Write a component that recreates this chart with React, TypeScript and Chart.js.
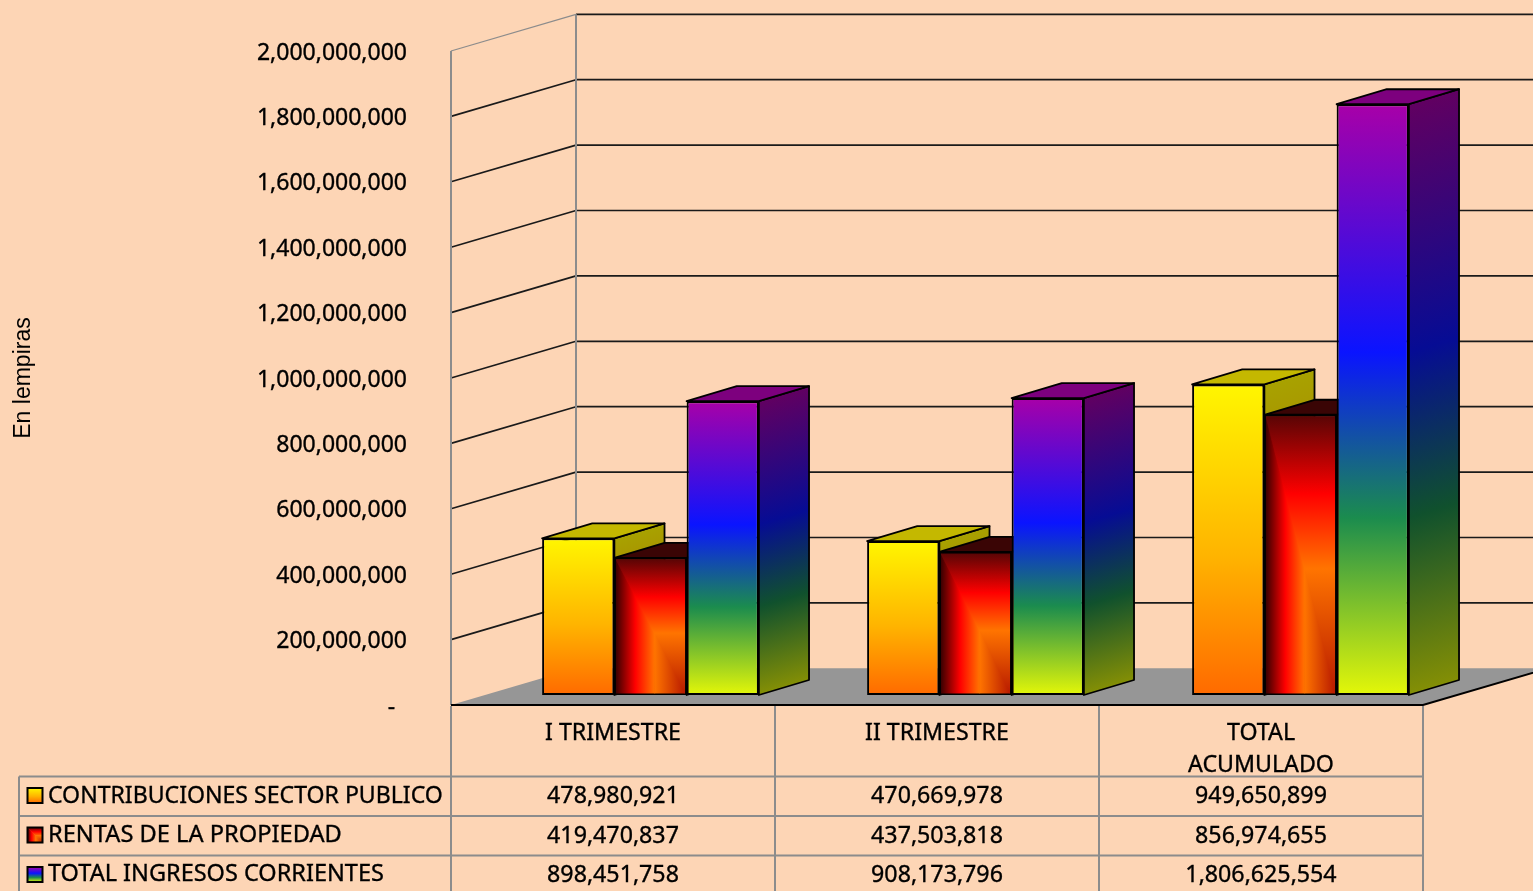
import React, { useEffect, useRef } from "react";
import { Chart, registerables } from "chart.js";

Chart.register(...registerables);

// Quarterly current income, in lempiras
const categories = ["I TRIMESTRE", "II TRIMESTRE", ["TOTAL", "ACUMULADO"]];
const seriesNames = ["CONTRIBUCIONES SECTOR PUBLICO", "RENTAS DE LA PROPIEDAD", "TOTAL INGRESOS CORRIENTES"];
const contribuciones = [478980921, 470669978, 949650899];
const rentas = [419470837, 437503818, 856974655];
const totalIngresos = [898451758, 908173796, 1806625554];
const seriesValues = [contribuciones, rentas, totalIngresos];

// Gradient ramps, top to bottom of each column face
const yellowRamp: [number, string][] = [[0, "#FFF600"], [0.55, "#FFB400"], [1, "#FF6A00"]];
const redRamp: [number, string][] = [[0, "#5A0505"], [0.28, "#FF0000"], [0.55, "#FF7000"], [1, "#B81A00"]];
const rainbowRamp: [number, string][] = [[0, "#A800A8"], [0.42, "#0A14FF"], [0.7, "#1B8C4E"], [1, "#E4F708"]];
const ramps = [yellowRamp, redRamp, rainbowRamp];
const topFaces = ["#C4B800", "#3A0505", "#7D007E"];
const sideShade = [0.66, 0.58, 0.58];

const PAGE = "#FDD5B5";
const WALL = "#8C8C8C";
const FLOOR = "#969696";
const LINE = "#1A1A1A";
const FONT = '"Noto Sans", sans-serif';
const TEXT_WEIGHT = 0.35;

// Depth of the room and of the columns
const WALL_DX = 125;
const WALL_DY = 36.7;
const COL_DX = 50;
const COL_DY = 15;
const ROW_DX = 35.6;
const ROW_DY = 10;
const ROW_STRETCH = 325 / 324;

const tableLeft = 19;
const tableRows = [776.5, 816, 855.5];
const tableEnd = 891;
const nameWidths = [395, 294, 336];
const nameNudge = [1, 0, 0];

function shade(hex: string, k: number) {
  const n = parseInt(hex.slice(1), 16);
  const p = (v: number) => Math.round(v * k);
  return `rgb(${p((n >> 16) & 255)},${p((n >> 8) & 255)},${p(n & 255)})`;
}

function fillStops(g: CanvasGradient, ramp: [number, string][], k = 1) {
  ramp.forEach(([t, c]) => g.addColorStop(t, k === 1 ? c : shade(c, k)));
  return g;
}

function poly(ctx: CanvasRenderingContext2D, pts: number[][]) {
  ctx.beginPath();
  pts.forEach(([x, y], i) => (i ? ctx.lineTo(x, y) : ctx.moveTo(x, y)));
  ctx.closePath();
}

// Property-income face: a rectangular burst around an off-centre focus
function paintBurst(ctx: CanvasRenderingContext2D, x: number, y: number, w: number, h: number) {
  const P = (u: number, v: number) => [x + u * w, y + v * h];
  const fx = 0.56;
  const fy = 0.55;
  const ORANGE = "#FF7400";
  const EDGE = "#B81A00";
  ctx.save();
  ctx.beginPath();
  ctx.rect(x, y, w, h);
  ctx.clip();

  const down = ctx.createLinearGradient(0, y, 0, y + h);
  down.addColorStop(0, "#5A0505");
  down.addColorStop(0.28, "#FF0000");
  down.addColorStop(fy, ORANGE);
  down.addColorStop(1, EDGE);

  const across = ctx.createLinearGradient(x, 0, x + w, 0);
  across.addColorStop(0, "#3A0000");
  across.addColorStop(0.28, "#FF0000");
  across.addColorStop(fx, ORANGE);
  across.addColorStop(1, EDGE);

  // Regions share edges, so each is stroked in its own fill to close the seams
  const region = (pts: number[][], paint: CanvasGradient) => {
    poly(ctx, pts);
    ctx.fillStyle = paint;
    ctx.strokeStyle = paint;
    ctx.lineWidth = 0.6;
    ctx.fill();
    ctx.stroke();
  };
  region([P(0, 0), P(fx, fy), P(fx, 1), P(0, 1)], across);
  region([P(fx, fy), P(1, 1), P(fx, 1)], across);
  region([P(0, 0), P(1, 0), P(1, fy), P(fx, fy)], down);
  region([P(fx, fy), P(1, fy), P(1, 1)], down);
  ctx.restore();
}

const roomPlugin = {
  id: "room",
  beforeDraw(chart: any) {
    const { ctx, chartArea: a, scales } = chart;
    const y = scales.y;
    const base = y.getPixelForValue(0);
    const rightEdge = chart.width;
    ctx.save();
    ctx.fillStyle = PAGE;
    ctx.fillRect(0, 0, chart.width, chart.height);

    // Floor
    poly(ctx, [
      [a.left, base],
      [a.left + WALL_DX, base - WALL_DY],
      [a.right + WALL_DX, base - WALL_DY],
      [a.right, base],
    ]);
    ctx.fillStyle = FLOOR;
    ctx.fill();

    // Wall lines at every tick
    y.ticks.forEach((t: any) => {
      const py = y.getPixelForValue(t.value);
      if (t.value === 0) return;
      ctx.strokeStyle = t.value === y.max ? WALL : LINE;
      ctx.lineWidth = t.value === y.max ? 1.2 : 1.7;
      ctx.beginPath();
      ctx.moveTo(a.left, py);
      ctx.lineTo(a.left + WALL_DX, py - WALL_DY);
      ctx.stroke();
      ctx.strokeStyle = LINE;
      ctx.lineWidth = 1.7;
      ctx.beginPath();
      ctx.moveTo(a.left + WALL_DX, py - WALL_DY);
      ctx.lineTo(rightEdge, py - WALL_DY);
      ctx.stroke();
    });

    // Wall corners
    ctx.strokeStyle = WALL;
    ctx.lineWidth = 2;
    ctx.beginPath();
    ctx.moveTo(a.left, y.getPixelForValue(y.max));
    ctx.lineTo(a.left, base);
    ctx.moveTo(a.left + WALL_DX, y.getPixelForValue(y.max) - WALL_DY);
    ctx.lineTo(a.left + WALL_DX, base - WALL_DY);
    ctx.stroke();

    // Floor front edges
    ctx.strokeStyle = "#000";
    ctx.lineWidth = 2;
    ctx.beginPath();
    ctx.moveTo(a.left, base);
    ctx.lineTo(a.right, base);
    ctx.lineTo(a.right + WALL_DX, base - WALL_DY);
    ctx.stroke();
    ctx.restore();
  },
  beforeDatasetsDraw(chart: any) {
    const { ctx } = chart;
    ctx.save();
    // The row of columns stands a little behind the front of the floor
    ctx.transform(ROW_STRETCH, 0, 0, 1, ROW_DX, -ROW_DY);
    // Left to right, each column's depth faces before its front
    chart.data.datasets.forEach((_: any, i: number) => {
      const meta = chart.getDatasetMeta(i);
      meta.data.forEach((bar: any) => {
        const { x, y, width, base } = bar.getProps(["x", "y", "width", "base"]);
        const l = x - width / 2;
        const r = x + width / 2;
        const h = base - y;
        const len = Math.hypot(COL_DX, COL_DY);
        const t = (h * COL_DX) / len;
        const g = ctx.createLinearGradient(r, y, r + (t * COL_DY) / len, y + (t * COL_DX) / len);
        ctx.lineWidth = 1.8;
        ctx.strokeStyle = "#000";
        ctx.lineJoin = "round";
        poly(ctx, [[r, y], [r + COL_DX, y - COL_DY], [r + COL_DX, base - COL_DY], [r, base]]);
        ctx.fillStyle = fillStops(g, ramps[i], sideShade[i]);
        ctx.fill();
        ctx.stroke();
        poly(ctx, [[l, y], [l + COL_DX, y - COL_DY], [r + COL_DX, y - COL_DY], [r, y]]);
        ctx.fillStyle = topFaces[i];
        ctx.fill();
        ctx.stroke();
      });
      meta.controller.draw();
      if (i === 1) {
        meta.data.forEach((bar: any) => {
          const { x, y, width, base } = bar.getProps(["x", "y", "width", "base"]);
          paintBurst(ctx, x - width / 2 + 1.5, y + 1.5, width - 3, base - y - 3);
        });
      }
    });
    ctx.restore();
    return false;
  },
  afterDraw(chart: any) {
    const { ctx, chartArea: a, scales } = chart;
    const x = scales.x;
    const base = scales.y.getPixelForValue(0);
    const step = (a.right - a.left) / categories.length;
    const columns = categories.map((_, i) => a.left + step * i).concat(a.right);
    ctx.save();

    // Data table grid
    ctx.strokeStyle = WALL;
    ctx.lineWidth = 2;
    ctx.beginPath();
    columns.forEach((cx) => {
      ctx.moveTo(cx, base + 1);
      ctx.lineTo(cx, tableEnd);
    });
    ctx.moveTo(tableLeft, tableRows[0]);
    ctx.lineTo(tableLeft, tableEnd);
    tableRows.forEach((ry) => {
      ctx.moveTo(tableLeft, ry);
      ctx.lineTo(a.right + 1, ry);
    });
    ctx.stroke();

    // Series names with their keys, then the values
    ctx.textBaseline = "middle";
    const put = (text: string, px: number, py: number) => {
      ctx.fillText(text, px, py);
      ctx.strokeText(text, px, py);
    };
    seriesNames.forEach((name, i) => {
      const cy = tableRows[i] + 19;
      const kx = 27.5;
      const ky = cy - 7.5;
      if (i === 1) {
        paintBurst(ctx, kx, ky, 15, 15);
      } else {
        ctx.fillStyle = fillStops(ctx.createLinearGradient(0, ky, 0, ky + 15), ramps[i]);
        ctx.fillRect(kx, ky, 15, 15);
      }
      ctx.strokeStyle = "#000";
      ctx.lineWidth = 2;
      ctx.strokeRect(kx, ky, 15, 15);
      ctx.fillStyle = "#000";
      ctx.lineWidth = TEXT_WEIGHT;
      ctx.textAlign = "left";
      ctx.font = `23px ${FONT}`;
      const fitted = (23 * nameWidths[i]) / ctx.measureText(name).width;
      ctx.font = `${fitted}px ${FONT}`;
      put(name, 48, cy + nameNudge[i]);
      ctx.font = `23.2px ${FONT}`;
      ctx.textAlign = "center";
      seriesValues[i].forEach((v, j) => {
        put(v.toLocaleString("en-US"), x.getPixelForTick(j), cy + 1);
      });
    });
    ctx.restore();
  },
};

export default function App() {
  const ref = useRef<HTMLCanvasElement>(null);

  useEffect(() => {
    document.body.style.margin = "0";
    const chart = new Chart(ref.current as HTMLCanvasElement, {
      type: "bar",
      plugins: [roomPlugin],
      data: {
        labels: categories as any,
        datasets: seriesNames.map((label, i) => ({
          label,
          data: seriesValues[i],
          borderColor: "#000",
          borderWidth: 2,
          borderSkipped: false,
          backgroundColor: (c: any) => {
            const scale = c.chart.scales.y;
            const fallback = ramps[i][0][1];
            if (!scale || c.raw === undefined) return fallback;
            const y0 = scale.getPixelForValue(c.raw);
            const y1 = scale.getPixelForValue(0);
            if (!Number.isFinite(y0) || !Number.isFinite(y1)) return fallback;
            return fillStops(c.chart.ctx.createLinearGradient(0, y0, 0, y1), ramps[i]);
          },
        })),
      },
      options: {
        responsive: false,
        animation: false,
        events: [],
        layout: { padding: { top: 51, right: 110, left: 0, bottom: 0 } },
        datasets: { bar: { barPercentage: 1, categoryPercentage: 0.667 } },
        plugins: { legend: { display: false }, tooltip: { enabled: false } },
        scales: {
          x: {
            grid: { display: false },
            border: { display: false },
            afterFit: (s: any) => {
              s.height = 186;
            },
            ticks: {
              color: "#000",
              maxRotation: 0,
              autoSkip: false,
              padding: 5,
              textStrokeColor: "#000",
              textStrokeWidth: TEXT_WEIGHT,
              font: { family: FONT, size: 23.2, lineHeight: 1.35 },
            },
          },
          y: {
            min: 0,
            max: 2000000000,
            grid: { display: false, drawTicks: false },
            border: { display: false },
            afterFit: (s: any) => {
              s.width = 451;
              s.paddingTop = 0;
              s.paddingBottom = 0;
            },
            title: {
              display: true,
              text: "En lempiras",
              color: "#000",
              align: "center",
              padding: { top: 10, bottom: 0 },
              font: { family: '"Liberation Sans", Arial, sans-serif', size: 23 },
            },
            ticks: {
              stepSize: 200000000,
              color: "#000",
              padding: 44,
              textStrokeColor: "#000",
              textStrokeWidth: TEXT_WEIGHT,
              // The blank first line drops the digits onto their wall lines
              font: { family: FONT, size: 23, lineHeight: "4px" },
              callback: (v: any) => ["", v === 0 ? "-  " : Number(v).toLocaleString("en-US")],
            },
          },
        },
      },
    });
    return () => chart.destroy();
  }, []);

  return (
    <div style={{ position: "fixed", inset: 0, background: PAGE }}>
      <canvas ref={ref} width={1533} height={891} style={{ display: "block" }} />
    </div>
  );
}
